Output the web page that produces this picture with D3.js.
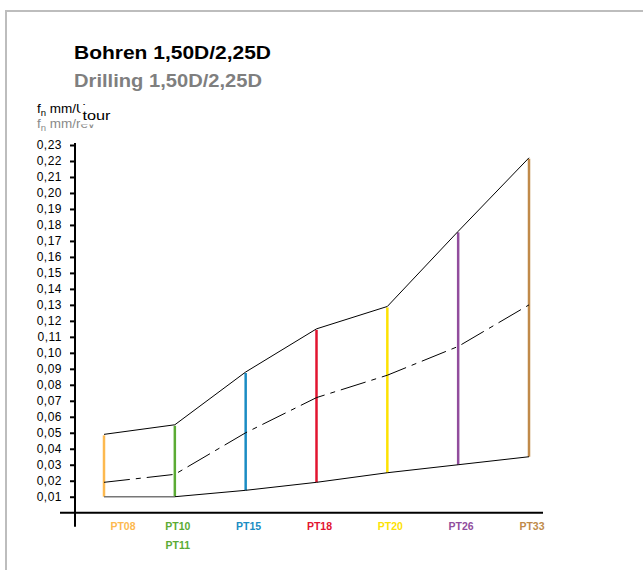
<!DOCTYPE html>
<html>
<head>
<meta charset="utf-8">
<script src="https://cdn.jsdelivr.net/npm/d3@7"></script>
<style>
  html, body { margin: 0; padding: 0; background: #fff; }
  svg { display: block; }
</style>
</head>
<body>
<div id="chart"></div>
<script>
// grades, top to bottom label lines per position
const categories = ["PT08", "PT10", "PT15", "PT18", "PT20", "PT26", "PT33"];
const labelLines = [["PT08"], ["PT10", "PT11"], ["PT15"], ["PT18"], ["PT20"], ["PT26"], ["PT33"]];
const gradeColors = ["#fdb94f", "#5bab34", "#1a8cc3", "#e2142f", "#fde203", "#914d9d", "#c08a4a"];

// feed fn mm/U
const feedMax = [0.049, 0.055, 0.088, 0.115, 0.129, 0.176, 0.222];
const feedMid = [0.019, 0.024, 0.050, 0.072, 0.086, 0.104, 0.130];
const feedMin = [0.010, 0.010, 0.014, 0.019, 0.025, 0.030, 0.035];

const yTickValues = [0.01, 0.02, 0.03, 0.04, 0.05, 0.06, 0.07, 0.08, 0.09, 0.10, 0.11, 0.12,
                     0.13, 0.14, 0.15, 0.16, 0.17, 0.18, 0.19, 0.20, 0.21, 0.22, 0.23];

const width = 643;
const height = 570;
const font = "'Liberation Sans', Arial, Helvetica, sans-serif";

const svg = d3.select("#chart")
    .append("svg")
    .attr("width", width)
    .attr("height", height)
    .style("font-family", font);

// frame
svg.append("path")
    .attr("d", "M6," + height + " V11 H" + width)
    .attr("fill", "none")
    .attr("stroke", "#bdbdbd")
    .attr("stroke-width", 2);

const xScale = d3.scalePoint()
    .domain(categories)
    .range([104, 529]);

const yScale = d3.scaleLinear()
    .domain([0, 0.23])
    .range([512.7, 145]);

// titles
svg.append("text")
    .attr("x", 74)
    .attr("y", 58.5)
    .attr("font-size", 17.5)
    .attr("font-weight", "bold")
    .attr("fill", "#000")
    .attr("textLength", 197)
    .attr("lengthAdjust", "spacingAndGlyphs")
    .text("Bohren 1,50D/2,25D");

svg.append("text")
    .attr("x", 74)
    .attr("y", 86.5)
    .attr("font-size", 17.5)
    .attr("font-weight", "bold")
    .attr("fill", "#7f7f7f")
    .attr("textLength", 188)
    .attr("lengthAdjust", "spacingAndGlyphs")
    .text("Drilling 1,50D/2,25D");

// unit label (overlapping german / english / french labels)
const unitBlack = svg.append("text")
    .attr("x", 37)
    .attr("y", 112.5)
    .attr("font-size", 13.5)
    .attr("fill", "#000");
unitBlack.append("tspan").text("f");
unitBlack.append("tspan").attr("dy", 3).attr("font-size", 9.5).text("n");
unitBlack.append("tspan").attr("dy", -3).text(" mm/U");

const unitGray = svg.append("text")
    .attr("x", 37)
    .attr("y", 127.5)
    .attr("font-size", 13.5)
    .attr("fill", "#8a8a8a");
unitGray.append("tspan").text("f");
unitGray.append("tspan").attr("dy", 3).attr("font-size", 9.5).text("n");
unitGray.append("tspan").attr("dy", -3).text(" mm/rev");

svg.append("rect")
    .attr("x", 80.5)
    .attr("y", 105)
    .attr("width", 34)
    .attr("height", 19.5)
    .attr("fill", "#fff");

svg.append("text")
    .attr("x", 82.5)
    .attr("y", 119.5)
    .attr("font-size", 13)
    .attr("fill", "#000")
    .attr("textLength", 28)
    .attr("lengthAdjust", "spacingAndGlyphs")
    .text("tour");

// y axis
const yAxis = svg.append("g")
    .attr("transform", "translate(75,0)")
    .call(d3.axisLeft(yScale)
        .tickValues(yTickValues)
        .tickSize(5)
        .tickPadding(8)
        .tickFormat(d => d3.format(".2f")(d).replace(".", ",")));

yAxis.select(".domain").remove();
yAxis.selectAll(".tick line")
    .attr("stroke", "#000")
    .attr("stroke-width", 2);
yAxis.selectAll(".tick text")
    .attr("fill", "#000")
    .style("font-family", font)
    .style("font-size", "12px")
    .style("letter-spacing", "0.5px");

svg.append("line")
    .attr("x1", 75).attr("x2", 75)
    .attr("y1", yScale(0.23) - 2)
    .attr("y2", yScale(0) + 14)
    .attr("stroke", "#000")
    .attr("stroke-width", 2);

// x axis
svg.append("line")
    .attr("x1", 60).attr("x2", 543)
    .attr("y1", yScale(0))
    .attr("y2", yScale(0))
    .attr("stroke", "#000")
    .attr("stroke-width", 2);

// colored ranges per grade
svg.selectAll(".range")
    .data(categories)
    .enter().append("line")
    .attr("class", "range")
    .attr("x1", d => xScale(d))
    .attr("x2", d => xScale(d))
    .attr("y1", (d, i) => yScale(feedMin[i]))
    .attr("y2", (d, i) => yScale(feedMax[i]) + 1)
    .attr("stroke", (d, i) => gradeColors[i])
    .attr("stroke-width", 2.5);

// envelope lines
const line = d3.line()
    .x(d => xScale(d[0]))
    .y(d => yScale(d[1]));

svg.append("path")
    .datum(categories.map((c, i) => [c, feedMax[i]]))
    .attr("d", line)
    .attr("fill", "none")
    .attr("stroke", "#000")
    .attr("stroke-width", 1);

svg.append("path")
    .datum(categories.map((c, i) => [c, feedMid[i]]))
    .attr("d", line)
    .attr("fill", "none")
    .attr("stroke", "#000")
    .attr("stroke-width", 1)
    .attr("stroke-dasharray", "26,6,5,6");

// bottom line: first segment grey, rest black
svg.append("path")
    .datum(categories.slice(0, 2).map((c, i) => [c, feedMin[i]]))
    .attr("d", line)
    .attr("fill", "none")
    .attr("stroke", "#777")
    .attr("stroke-width", 1.5);

svg.append("path")
    .datum(categories.slice(1).map((c, i) => [c, feedMin[i + 1]]))
    .attr("d", line)
    .attr("fill", "none")
    .attr("stroke", "#000")
    .attr("stroke-width", 1);

// grade labels
labelLines.forEach(function (lines, i) {
    const t = svg.append("text")
        .attr("x", xScale(categories[i]) + (i === 0 ? 19 : 3))
        .attr("y", yScale(0) + 17.5)
        .attr("text-anchor", "middle")
        .attr("font-size", 10.5)
        .attr("font-weight", "bold")
        .attr("fill", gradeColors[i]);
    lines.forEach(function (s, j) {
        t.append("tspan")
            .attr("x", xScale(categories[i]) + (i === 0 ? 19 : 3))
            .attr("dy", j === 0 ? 0 : 19)
            .text(s);
    });
});
</script>
</body>
</html>
